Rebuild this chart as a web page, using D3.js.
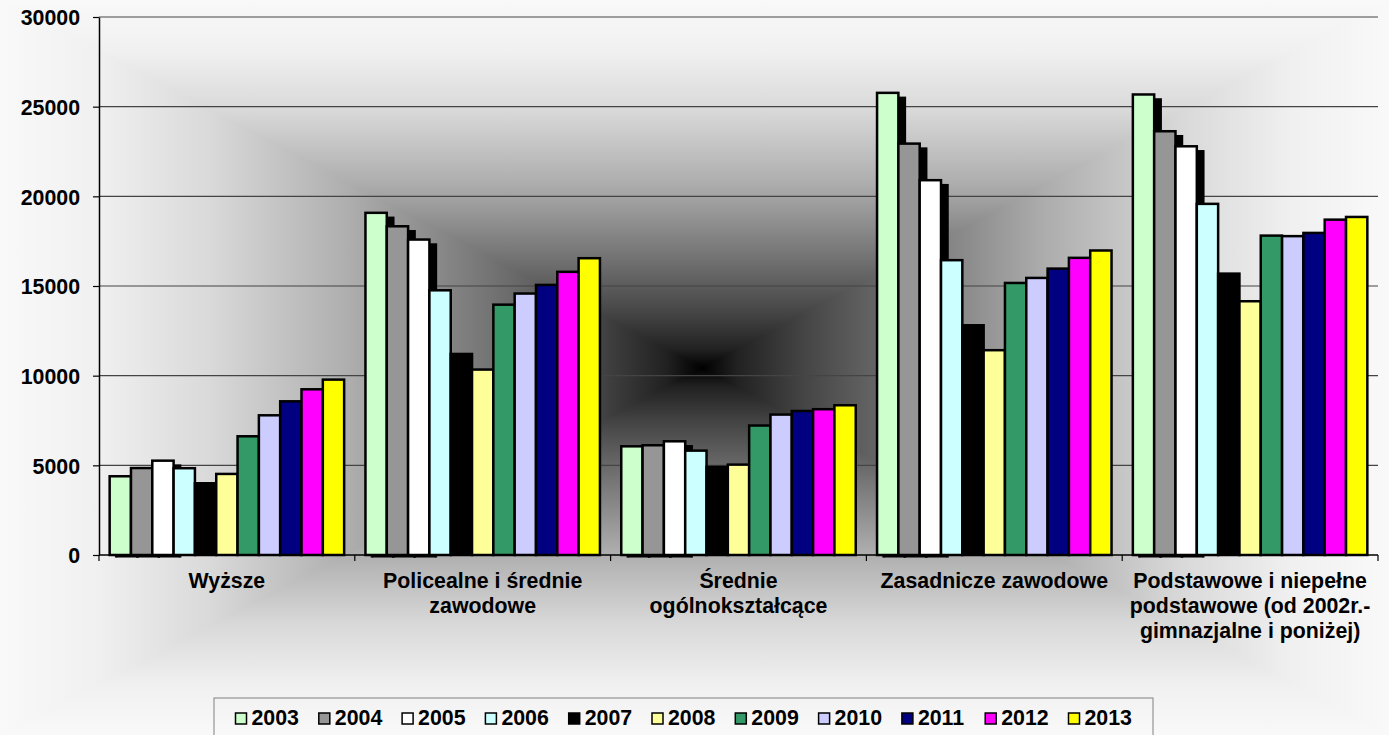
<!DOCTYPE html>
<html>
<head>
<meta charset="utf-8">
<script src="https://cdn.jsdelivr.net/npm/d3@7"></script>
<style>
html,body{margin:0;padding:0;background:#fff;}
svg{display:block;}
text{font-family:"Liberation Sans",Arial,sans-serif;font-weight:bold;font-size:21.33px;fill:#000;}
</style>
</head>
<body>
<svg id="chart" width="1389" height="735"></svg>
<script>
const categories = ["Wyższe", "Policealne i średnie zawodowe", "Średnie ogólnokształcące", "Zasadnicze zawodowe", "Podstawowe i niepełne podstawowe (od 2002r.- gimnazjalne i poniżej)"];
const categoryLines = [
  ["Wyższe"],
  ["Policealne i średnie", "zawodowe"],
  ["Średnie", "ogólnokształcące"],
  ["Zasadnicze zawodowe"],
  ["Podstawowe i niepełne", "podstawowe (od 2002r.-", "gimnazjalne i poniżej)"]
];
const years = ["2003","2004","2005","2006","2007","2008","2009","2010","2011","2012","2013"];
const colors = ["#CCFFCC","#969696","#FFFFFF","#CCFFFF","#000000","#FFFF99","#339966","#CCCCFF","#000080","#FF00FF","#FFFF00"];
const shadowYears = ["2003","2004","2005"];
const s2003 = [4390, 19080, 6060, 25770, 25680];
const s2004 = [4850, 18330, 6120, 22940, 23630];
const s2005 = [5260, 17590, 6340, 20900, 22790];
const s2006 = [4840, 14760, 5820, 16440, 19580];
const s2007 = [4000, 11210, 4910, 12810, 15690];
const s2008 = [4520, 10340, 5040, 11420, 14150];
const s2009 = [6620, 13960, 7220, 15170, 17810];
const s2010 = [7790, 14580, 7830, 15450, 17780];
const s2011 = [8570, 15060, 8030, 15970, 17960];
const s2012 = [9240, 15790, 8130, 16570, 18700];
const s2013 = [9780, 16550, 8350, 16980, 18850];
const yTicks = [0, 5000, 10000, 15000, 20000, 25000, 30000];

(function(){
const series = [s2003,s2004,s2005,s2006,s2007,s2008,s2009,s2010,s2011,s2012,s2013];

const W = 1389, H = 735;
const svg = d3.select("#chart");
const defs = svg.append("defs");

// Background: rectangular "from center" gradient built from four triangles
const cx = 702, cy = 368;
const stops = [[0,0],[0.05,0.13],[0.15,0.27],[0.3,0.45],[0.5,0.68],[0.7,0.85],[0.86,0.94],[1,0.975]];
function grad(id, gx1, gy1, gx2, gy2){
  const g = defs.append("linearGradient").attr("id", id).attr("gradientUnits","userSpaceOnUse")
    .attr("x1",gx1).attr("y1",gy1).attr("x2",gx2).attr("y2",gy2);
  stops.forEach(s => {
    const v = Math.round(s[1]*255);
    g.append("stop").attr("offset", s[0]).attr("stop-color", d3.rgb(v,v,v).toString());
  });
}
grad("gTop", cx, cy, cx, 0);
grad("gBottom", cx, cy, cx, H);
grad("gLeft", cx, cy, 0, cy);
grad("gRight", cx, cy, W, cy);
const bg = svg.append("g");
const tris = [
  [`M${cx},${cy}L0,0L${W},0Z`, "gTop"],
  [`M${cx},${cy}L0,${H}L${W},${H}Z`, "gBottom"],
  [`M${cx},${cy}L0,0L0,${H}Z`, "gLeft"],
  [`M${cx},${cy}L${W},0L${W},${H}Z`, "gRight"]
];
tris.forEach(t => {
  bg.append("path").attr("d", t[0]).attr("fill", `url(#${t[1]})`)
    .attr("stroke", `url(#${t[1]})`).attr("stroke-width", 1.2);
});

// Scales
const pLeft = 99, pRight = 1378, pTop = 17, pBottom = 555;
const x0 = d3.scaleBand().domain(categories).range([pLeft, pRight]).paddingInner(0).paddingOuter(0);
const x1 = d3.scaleBand().domain(years).range([0, x0.bandwidth()]).paddingInner(0).paddingOuter(0.5);
const y = d3.scaleLinear().domain([0, 30000]).range([pBottom, pTop]);

// Gridlines
svg.append("g").selectAll("line").data(yTicks.filter(d => d > 0)).join("line")
  .attr("x1", pLeft).attr("x2", pRight)
  .attr("y1", d => y(d)).attr("y2", d => y(d))
  .attr("stroke", "#444").attr("stroke-width", 1.2);

// Data table
const table = [];
categories.forEach((c, ci) => {
  years.forEach((yr, yi) => {
    table.push({cat: c, year: yr, value: series[yi][ci], color: colors[yi]});
  });
});

// Shadows (only on the first three series)
const sdx = 6.5, sdy = 5;
defs.append("clipPath").attr("id", "shadowClip").append("rect")
  .attr("x", 0).attr("y", 0).attr("width", W).attr("height", pBottom + 2.5);
svg.append("g").attr("clip-path", "url(#shadowClip)")
  .selectAll("rect").data(table.filter(d => shadowYears.includes(d.year))).join("rect")
  .attr("x", d => x0(d.cat) + x1(d.year) + sdx)
  .attr("y", d => y(d.value) + sdy)
  .attr("width", x1.bandwidth())
  .attr("height", d => y(0) - y(d.value))
  .attr("fill", "#000").attr("stroke", "#000").attr("stroke-width", 2.5);

// Bars
svg.append("g").selectAll("rect").data(table).join("rect")
  .attr("x", d => x0(d.cat) + x1(d.year))
  .attr("y", d => y(d.value))
  .attr("width", x1.bandwidth())
  .attr("height", d => y(0) - y(d.value))
  .attr("fill", d => d.color).attr("stroke", "#000").attr("stroke-width", 2.5)
  .attr("stroke-linejoin", "miter");

// Y axis
const yAxis = svg.append("g").attr("transform", `translate(${pLeft},0)`)
  .call(d3.axisLeft(y).tickValues(yTicks).tickFormat(d3.format("d")).tickSize(6).tickSizeOuter(0).tickPadding(13));
yAxis.select(".domain").attr("stroke", "#000").attr("stroke-width", 1.5);
yAxis.selectAll(".tick line").attr("stroke", "#000").attr("stroke-width", 1.2);
yAxis.attr("font-family", null).attr("font-size", null);
yAxis.selectAll(".tick text")
  .style("font-family", '"Liberation Sans",Arial,sans-serif').style("font-weight","bold").style("font-size","21.33px")
  .attr("dy", "0.36em");

// X axis
svg.append("line").attr("x1", pLeft).attr("x2", pRight).attr("y1", pBottom).attr("y2", pBottom)
  .attr("stroke", "#000").attr("stroke-width", 1.5);
const bounds = categories.map(c => x0(c)).concat([x0(categories[categories.length-1]) + x0.bandwidth()]);
svg.append("g").selectAll("line").data(bounds).join("line")
  .attr("x1", d => d).attr("x2", d => d).attr("y1", pBottom).attr("y2", pBottom + 6)
  .attr("stroke", "#000").attr("stroke-width", 1.2);

const labels = svg.append("g").selectAll("text").data(categories).join("text")
  .attr("text-anchor", "middle")
  .attr("x", d => x0(d) + x0.bandwidth()/2)
  .attr("y", 588);
labels.each(function(d, i){
  const t = d3.select(this);
  categoryLines[i].forEach((ln, li) => {
    t.append("tspan").attr("x", x0(d) + x0.bandwidth()/2).attr("y", 588 + li*25).text(ln);
  });
});

// Legend
const lg = svg.append("g");
lg.append("rect").attr("x", 214).attr("y", 698).attr("width", 939).attr("height", 60)
  .attr("fill", "none").attr("stroke", "#808080").attr("stroke-width", 1);
const items = lg.selectAll("g").data(years).join("g")
  .attr("transform", (d, i) => `translate(${235 + i*83.3},0)`);
items.append("rect").attr("x", 0.5).attr("y", 713).attr("width", 11).attr("height", 11)
  .attr("fill", (d, i) => colors[i]).attr("stroke", "#000").attr("stroke-width", 1.5);
items.append("text").attr("x", 16.5).attr("y", 725).text(d => d);
})();
</script>
</body>
</html>
